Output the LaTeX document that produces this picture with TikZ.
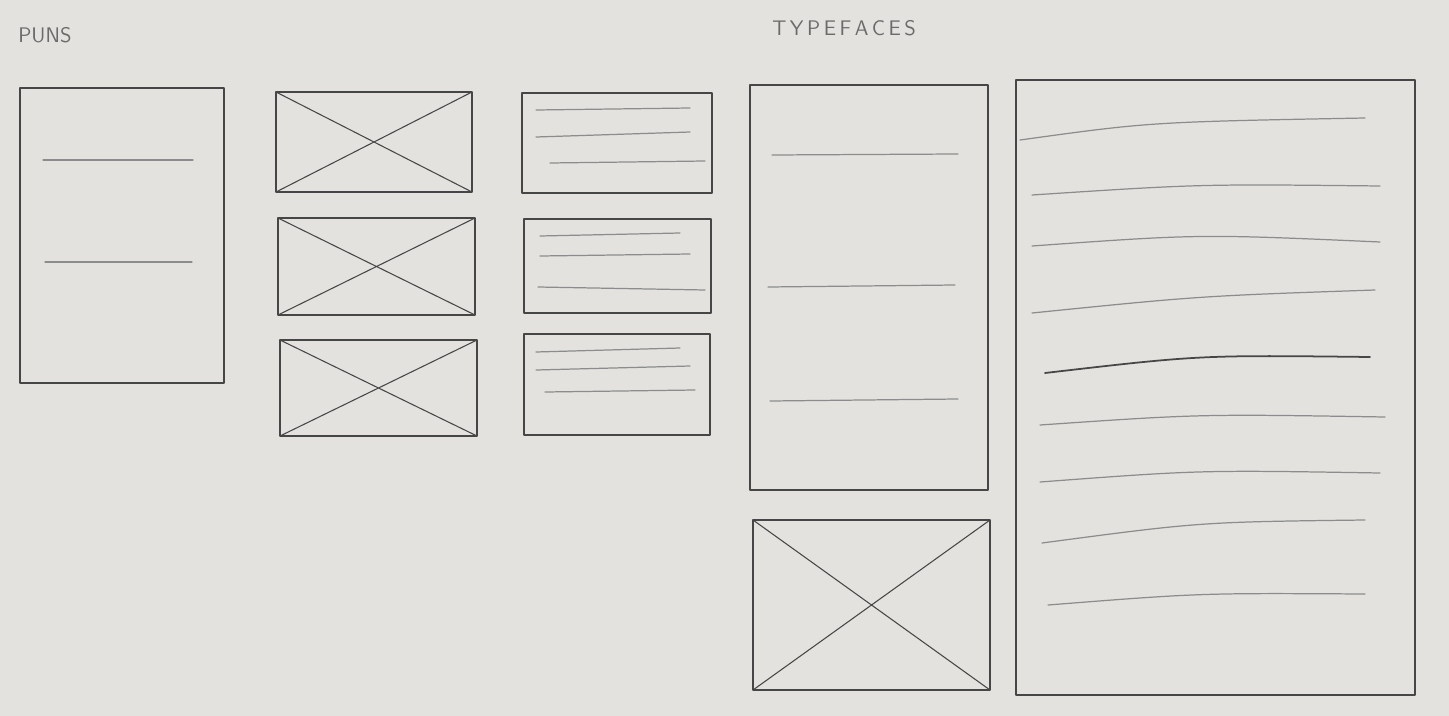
\documentclass[tikz,border=0pt]{standalone}
\usetikzlibrary{positioning}
\definecolor{paper}{RGB}{228,226,223}
\definecolor{pencil}{RGB}{70,70,70}
\definecolor{softpencil}{RGB}{140,140,140}
\tikzset{
  sketchbox/.style={draw=pencil, line width=0.9pt},
  cross/.style={draw=pencil, line width=0.6pt},
  textline/.style={draw=softpencil, line width=0.7pt, line cap=round},
  heading/.style={text=pencil!80, font=\sffamily\fontsize{12}{13}\selectfont, anchor=west, inner sep=0pt}
}
\begin{document}
\begin{tikzpicture}[x=0.02cm, y=-0.02cm, line join=round]
    \fill[paper] (0,0) rectangle (1449,716);
    \useasboundingbox (0,0) rectangle (1449,716);
    % headings
    \node[heading] (puns) at (18,35) {PUNS};
    \node[heading] (typefaces) at (772,28) {T\,Y\,P\,E\,F\,A\,C\,E\,S};
    % left card
    \draw[sketchbox] (20,88) rectangle (224,383);
    \draw[textline] (43,160) -- (193,160);
    \draw[textline] (45,262) -- (192,262);
    % image boxes
    \foreach \xa/\ya/\xb/\yb in {276/92/472/192, 278/218/475/315, 280/340/477/436} {
      \draw[sketchbox] (\xa,\ya) rectangle (\xb,\yb);
      \draw[cross] (\xa,\ya) -- (\xb,\yb) (\xa,\yb) -- (\xb,\ya);
    }
    % text boxes
    \draw[sketchbox] (522,93) rectangle (712,193);
    \draw[textline] (536,110) -- (690,108);
    \draw[textline] (536,137) -- (690,132);
    \draw[textline] (550,163) -- (705,161);
    \draw[sketchbox] (524,219) rectangle (711,313);
    \draw[textline] (540,236) -- (680,233);
    \draw[textline] (540,256) -- (690,254);
    \draw[textline] (538,287) -- (705,290);
    \draw[sketchbox] (524,334) rectangle (710,435);
    \draw[textline] (536,352) -- (680,348);
    \draw[textline] (536,370) -- (690,366);
    \draw[textline] (545,392) -- (695,390);
    % typefaces column
    \draw[sketchbox] (750,85) rectangle (988,490);
    \draw[textline] (772,155) -- (958,154);
    \draw[textline] (768,287) -- (955,285);
    \draw[textline] (770,401) -- (958,399);
    \draw[sketchbox] (753,520) rectangle (990,690);
    \draw[cross] (753,520) -- (990,690) (753,690) -- (990,520);
    % specimen page
    \draw[sketchbox] (1016,80) rectangle (1415,695);
    \draw[textline] (1020,140) .. controls (1150,122) .. (1365,118);
    \draw[textline] (1032,195) .. controls (1200,184) .. (1380,186);
    \draw[textline] (1032,246) .. controls (1200,234) .. (1380,242);
    \draw[textline] (1032,313) .. controls (1200,296) .. (1375,290);
    \draw[textline, draw=pencil, line width=1pt] (1045,373) .. controls (1200,355) .. (1370,357);
    \draw[textline] (1040,425) .. controls (1200,414) .. (1385,417);
    \draw[textline] (1040,482) .. controls (1200,470) .. (1380,473);
    \draw[textline] (1042,543) .. controls (1200,522) .. (1365,520);
    \draw[textline] (1048,605) .. controls (1200,593) .. (1365,594);
\end{tikzpicture}
\end{document}
